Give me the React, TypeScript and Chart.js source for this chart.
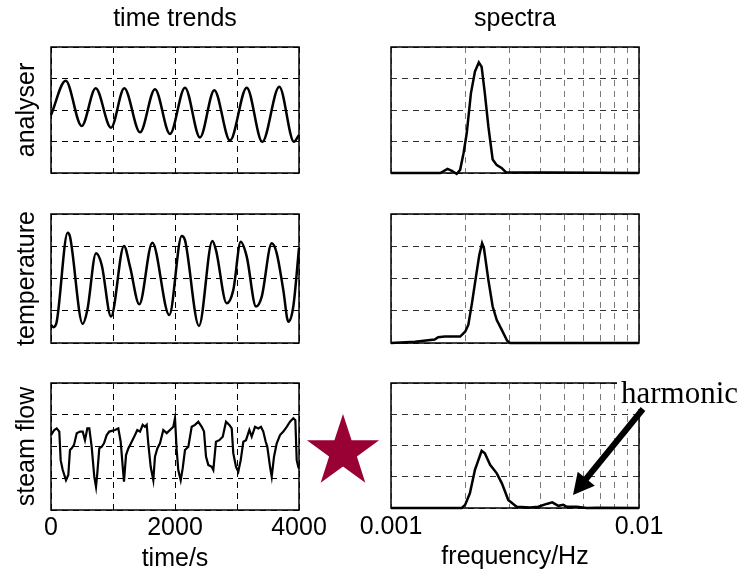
import React, { useEffect, useRef } from 'react';
import { Chart, registerables } from 'chart.js';

Chart.register(...registerables);

const FONT = "'Liberation Sans', Arial, Helvetica, sans-serif";
const SERIF = "'Liberation Serif', 'Times New Roman', serif";

// ---- axes / text ----
const TIME_TICKS = [0, 1000, 2000, 3000, 4000];
const TIME_LABELS = ['0', '', '2000', '', '4000'];
const FREQ_TICKS = [0.001, 0.002, 0.003, 0.004, 0.005, 0.006, 0.007, 0.008, 0.009, 0.01];
const FREQ_LABELS = ['0.001', '', '', '', '', '', '', '', '', '0.01'];
const LEVEL_TICKS = [0, 1, 2, 3, 4];
const COLUMN_TITLES = ['time trends', 'spectra'];
const ROW_LABELS = ['analyser', 'temperature', 'steam flow'];
const X_TITLES = ['time/s', 'frequency/Hz'];
const ANNOTATION = 'harmonic';

// ---- time trends ----
const analyserTime = [0, 237, 495, 721, 968, 1182, 1436, 1677, 1919, 2161, 2403, 2634, 2887, 3157, 3408, 3682, 3919, 4000];
const analyserValue = [1.84, 2.93, 1.49, 2.69, 1.44, 2.69, 1.29, 2.66, 1.24, 2.71, 1.13, 2.63, 1.03, 2.71, 0.99, 2.74, 0.99, 1.21];

const temperatureTime = [0, 37, 92, 269, 306, 511, 586, 726, 818, 968, 1177, 1274, 1424, 1634, 1908, 2108, 2161, 2387, 2602, 2661, 2834, 2940, 3060, 3157, 3307, 3399, 3560, 3641, 3747, 3828, 3908, 4000];
const temperatureValue = [0.56, 0.49, 0.66, 3.42, 3.3, 0.59, 1.02, 2.78, 2.42, 0.82, 3.01, 2.37, 1.2, 3.11, 0.87, 3.32, 3.19, 0.53, 3.16, 2.88, 1.23, 1.64, 3.14, 2.68, 1.13, 1.44, 3.09, 2.78, 1.64, 0.66, 1.13, 2.94];

const steamTime = [0, 53, 92, 134, 156, 189, 242, 279, 306, 334, 371, 415, 468, 511, 548, 586, 618, 656, 698, 726, 747, 779, 818, 855, 898, 940, 1032, 1086, 1124, 1157, 1177, 1210, 1247, 1302, 1355, 1392, 1436, 1479, 1516, 1544, 1569, 1608, 1650, 1677, 1715, 1758, 1811, 1866, 1919, 1973, 2000, 2027, 2053, 2092, 2124, 2161, 2215, 2269, 2323, 2376, 2431, 2468, 2500, 2537, 2592, 2618, 2661, 2715, 2770, 2823, 2876, 2915, 2940, 2984, 3021, 3060, 3102, 3145, 3199, 3237, 3291, 3344, 3387, 3424, 3463, 3489, 3533, 3560, 3597, 3641, 3694, 3747, 3802, 3855, 3908, 3941, 3963, 3989, 4000];
const steamValue = [2.36, 2.52, 2.57, 2.47, 1.57, 1.26, 0.94, 1.1, 1.89, 1.94, 2.05, 2.42, 2.47, 2.47, 2.2, 2.57, 2.57, 1.99, 1.05, 0.73, 1.16, 1.94, 1.99, 2.1, 2.36, 2.47, 2.52, 2.57, 2.15, 1.36, 0.89, 1.73, 1.94, 2.15, 2.36, 2.52, 2.47, 2.68, 2.62, 2.68, 2.1, 1.36, 0.94, 1.68, 1.94, 2.1, 2.52, 2.42, 2.52, 2.62, 2.89, 1.89, 1.26, 0.94, 1.31, 1.89, 1.99, 2.62, 2.68, 2.78, 2.62, 2.47, 1.68, 1.42, 1.36, 1.26, 2.15, 2.2, 2.31, 2.78, 2.68, 2.57, 1.79, 1.36, 1.21, 1.57, 2.15, 2.2, 2.52, 2.31, 2.62, 2.57, 2.62, 2.47, 2.15, 1.99, 1.36, 1.05, 1.68, 2.1, 2.36, 2.47, 2.62, 2.78, 2.89, 2.83, 1.57, 1.36, 1.3];

// ---- spectra ----
const analyserFreq = [0.001, 0.00158, 0.00169, 0.00176, 0.00184, 0.0019, 0.00196, 0.00202, 0.0021, 0.00218, 0.00226, 0.00232, 0.00239, 0.00247, 0.00257, 0.00267, 0.0028, 0.00291, 0.01];
const analyserPower = [0, 0, 0.13, 0.07, -0.03, 0.1, 0.62, 1.26, 2.53, 3.22, 3.51, 3.37, 2.53, 1.47, 0.43, 0.25, 0.15, 0.02, 0];

const temperatureFreq = [0.001, 0.00125, 0.0015, 0.00155, 0.00165, 0.0019, 0.00199, 0.00205, 0.00212, 0.00218, 0.00227, 0.00233, 0.00237, 0.00247, 0.00257, 0.00267, 0.0028, 0.00294, 0.00302, 0.01];
const temperaturePower = [0, 0.04, 0.11, 0.18, 0.2, 0.2, 0.35, 0.56, 1.23, 1.85, 2.73, 3.09, 2.94, 1.95, 1.13, 0.71, 0.4, 0.07, 0, 0];

const steamFreq = [0.001, 0.00193, 0.00199, 0.00208, 0.00218, 0.00232, 0.00239, 0.00251, 0.00267, 0.0028, 0.00297, 0.00321, 0.00364, 0.00393, 0.00424, 0.00447, 0.00473, 0.00495, 0.00511, 0.00561, 0.00615, 0.00675, 0.01];
const steamPower = [0, 0, 0.1, 0.47, 1.22, 1.83, 1.75, 1.38, 1.11, 0.79, 0.26, 0.04, 0.02, 0.04, 0.13, 0.18, 0.07, 0.1, 0.04, 0.04, 0, 0.01, 0];

type PanelSpec = {
  key: string;
  col: 0 | 1;
  row: 0 | 1 | 2;
  left: number;
  top: number;
  width: number;
  height: number;
  pad: { left: number; right: number; top: number; bottom: number };
  xAxisHeight: number;
  tickPad: number;
  xs: number[];
  ys: number[];
  smooth: boolean;
  annotate?: boolean;
};

const decorPlugin = {
  id: 'decor',
  afterDraw(chart: any, _args: any, opts: any) {
    const { ctx, chartArea: a } = chart;
    ctx.save();
    ctx.setLineDash([]);
    ctx.strokeStyle = '#000';
    ctx.lineWidth = 1.5;
    ctx.strokeRect(a.left, a.top, a.right - a.left, a.bottom - a.top);
    if (opts && opts.annotate) {
      // star
      const cx = 43, cy = 92, R = 38, r = 14.6;
      ctx.fillStyle = '#990033';
      ctx.beginPath();
      for (let k = 0; k < 10; k++) {
        const ang = -Math.PI / 2 + (k * Math.PI) / 5;
        const rad = k % 2 === 0 ? R : r;
        const px = cx + rad * Math.cos(ang);
        const py = cy + rad * Math.sin(ang);
        if (k === 0) ctx.moveTo(px, py); else ctx.lineTo(px, py);
      }
      ctx.closePath();
      ctx.fill();
      // label with white background
      ctx.fillStyle = '#fff';
      ctx.fillRect(317, 10, 133, 39);
      ctx.fillStyle = '#000';
      ctx.font = `31px ${SERIF}`;
      ctx.textBaseline = 'alphabetic';
      ctx.textAlign = 'left';
      ctx.fillText(ANNOTATION, 321, 43);
      // arrow
      const sx = 343, sy = 49, tx = 273, ty = 135;
      const dx = tx - sx, dy = ty - sy;
      const len = Math.hypot(dx, dy);
      const ux = dx / len, uy = dy / len;
      const nx = -uy, ny = ux;
      const hl = 21, hw = 11;
      const bx = tx - ux * hl, by = ty - uy * hl;
      ctx.strokeStyle = '#000';
      ctx.lineWidth = 6;
      ctx.lineCap = 'butt';
      ctx.beginPath();
      ctx.moveTo(sx, sy);
      ctx.lineTo(bx + ux * 2, by + uy * 2);
      ctx.stroke();
      ctx.fillStyle = '#000';
      ctx.beginPath();
      ctx.moveTo(tx, ty);
      ctx.lineTo(bx + nx * hw, by + ny * hw);
      ctx.lineTo(bx - nx * hw, by - ny * hw);
      ctx.closePath();
      ctx.fill();
    }
    ctx.restore();
  },
};

function makeConfig(p: PanelSpec): any {
  const isTime = p.col === 0;
  const tickVals = isTime ? TIME_TICKS : FREQ_TICKS;
  const labels = isTime ? TIME_LABELS : FREQ_LABELS;
  const bottomRow = p.row === 2;
  const scales: any = {
    x: {
      type: isTime ? 'linear' : 'logarithmic',
      position: 'bottom',
      min: tickVals[0],
      max: tickVals[tickVals.length - 1],
      afterBuildTicks: (s: any) => {
        s.ticks = tickVals.map((v) => ({ value: v }));
      },
      ticks: {
        display: bottomRow,
        autoSkip: false,
        maxRotation: 0,
        minRotation: 0,
        padding: p.tickPad,
        color: '#000',
        font: { family: FONT, size: 25 },
        callback: (_v: any, i: number) => labels[i] ?? '',
      },
      grid: { drawTicks: false, color: isTime ? '#000' : '#7a7a7a', lineWidth: 1 },
      border: { display: false, dash: [6, 5] },
      title: bottomRow
        ? {
            display: true,
            text: X_TITLES[p.col],
            color: '#000',
            font: { family: FONT, size: 25, lineHeight: 1 },
            padding: { top: 0, bottom: isTime ? -3 : -1 },
          }
        : { display: false },
      afterFit: (s: any) => {
        s.height = p.xAxisHeight;
      },
    },
    y: {
      type: 'linear',
      position: 'left',
      min: 0,
      max: 4,
      afterBuildTicks: (s: any) => {
        s.ticks = LEVEL_TICKS.map((v) => ({ value: v }));
      },
      ticks: { display: false },
      grid: { drawTicks: false, color: isTime ? '#000' : '#333', lineWidth: 1 },
      border: { display: false, dash: [6, 5] },
      title: isTime
        ? {
            display: true,
            text: ROW_LABELS[p.row],
            color: '#000',
            font: { family: FONT, size: 25, lineHeight: 1 },
            padding: { top: 15, bottom: 0 },
          }
        : { display: false },
      afterFit: (s: any) => {
        s.width = isTime ? 51 : 0;
      },
    },
  };
  if (p.row === 0) {
    scales.head = {
      type: 'linear',
      axis: 'x',
      position: 'top',
      display: true,
      ticks: { display: false },
      grid: { display: false, drawTicks: false },
      border: { display: false },
      title: {
        display: true,
        text: COLUMN_TITLES[p.col],
        color: '#000',
        font: { family: FONT, size: 25, lineHeight: 1 },
        padding: { top: 7, bottom: 0 },
      },
      afterFit: (s: any) => {
        s.height = 47;
      },
    };
  }
  const points = p.xs.map((x, i) => ({ x, y: p.ys[i] }));
  return {
    type: 'line',
    data: {
      datasets: [
        {
          data: points,
          xAxisID: 'x',
          yAxisID: 'y',
          borderColor: '#000',
          borderWidth: isTime && p.row === 2 ? 2.2 : 2.5,
          pointRadius: 0,
          fill: false,
          tension: p.smooth ? 0.4 : 0,
          cubicInterpolationMode: p.smooth ? 'monotone' : 'default',
          clip: isTime ? 3 : false,
        },
      ],
    },
    options: {
      responsive: false,
      maintainAspectRatio: false,
      animation: false,
      devicePixelRatio: 1,
      events: [],
      layout: { padding: p.pad },
      scales,
      plugins: {
        legend: { display: false },
        tooltip: { enabled: false },
        title: { display: false },
        decor: { annotate: !!p.annotate },
      },
    },
    plugins: [decorPlugin],
  };
}

const LEFT_COL = { left: 0, width: 340, padLeft: 0, padRight: 41 };
const RIGHT_COL = { left: 300, width: 450, padLeft: 91, padRight: 111 };
const ROWS = [
  { top: 0, height: 190, padTop: 0, padBottom: 17 },
  { top: 190, height: 170, padTop: 24, padBottom: 17 },
  { top: 360, height: 209, padTop: 23, padBottom: 0 },
];

const SERIES: Array<{ xs: number[]; ys: number[]; smooth: boolean }[]> = [
  [
    { xs: analyserTime, ys: analyserValue, smooth: true },
    { xs: analyserFreq, ys: analyserPower, smooth: false },
  ],
  [
    { xs: temperatureTime, ys: temperatureValue, smooth: true },
    { xs: temperatureFreq, ys: temperaturePower, smooth: false },
  ],
  [
    { xs: steamTime, ys: steamValue, smooth: false },
    { xs: steamFreq, ys: steamPower, smooth: false },
  ],
];

const PANELS: PanelSpec[] = [];
ROWS.forEach((r, ri) => {
  [LEFT_COL, RIGHT_COL].forEach((c, ci) => {
    const s = SERIES[ri][ci];
    PANELS.push({
      key: `p${ri}${ci}`,
      col: ci as 0 | 1,
      row: ri as 0 | 1 | 2,
      left: c.left,
      top: r.top,
      width: c.width,
      height: r.height,
      pad: { left: c.padLeft, right: c.padRight, top: r.padTop, bottom: r.padBottom },
      xAxisHeight: ri === 2 ? (ci === 0 ? 59 : 61) : 0,
      tickPad: ci === 0 ? 3 : 4,
      xs: s.xs,
      ys: s.ys,
      smooth: s.smooth,
      annotate: ri === 2 && ci === 1,
    });
  });
});

function Panel({ spec }: { spec: PanelSpec }) {
  const ref = useRef<HTMLCanvasElement | null>(null);
  useEffect(() => {
    if (!ref.current) return;
    const chart = new Chart(ref.current, makeConfig(spec));
    return () => chart.destroy();
  }, [spec]);
  return (
    <canvas
      ref={ref}
      width={spec.width}
      height={spec.height}
      style={{ position: 'absolute', left: spec.left, top: spec.top, width: spec.width, height: spec.height }}
    />
  );
}

export default function App() {
  return (
    <div style={{ position: 'absolute', left: 0, top: 0, width: 750, height: 569, background: '#fff', overflow: 'hidden' }}>
      {PANELS.filter((p) => !p.annotate).map((p) => (
        <Panel key={p.key} spec={p} />
      ))}
      {PANELS.filter((p) => p.annotate).map((p) => (
        <Panel key={p.key} spec={p} />
      ))}
    </div>
  );
}
